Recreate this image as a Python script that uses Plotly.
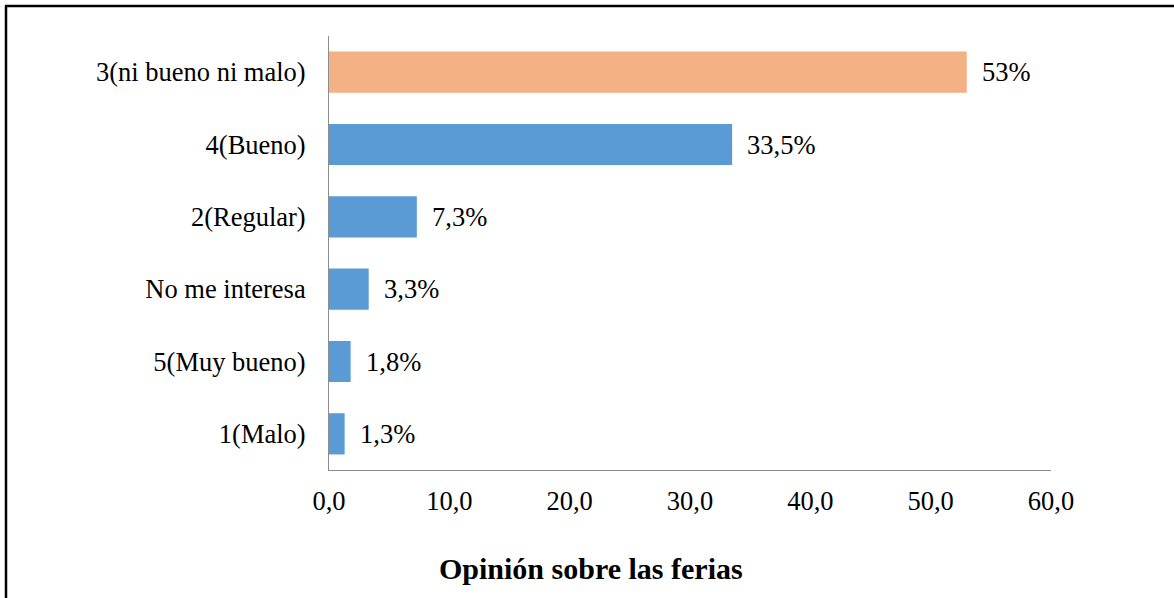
import plotly.graph_objects as go

# Data (bottom to top, as drawn)
categories = ['1(Malo)', '5(Muy bueno)', 'No me interesa', '2(Regular)', '4(Bueno)', '3(ni bueno ni malo)']
values = [1.3, 1.8, 3.3, 7.3, 33.5, 53.0]
value_labels = ['1,3%', '1,8%', '3,3%', '7,3%', '33,5%', '53%']
bar_colors = ['#5B9BD5', '#5B9BD5', '#5B9BD5', '#5B9BD5', '#5B9BD5', '#F4B183']
x_title = 'Opinión sobre las ferias'

W, H = 1174, 598
L, R, T, B = 329, 123, 36, 128
pw, ph = W - L - R, H - T - B

def px_x(p):
    return (p - L) / pw

def px_y(p):
    return (H - B - p) / ph

font_family = 'Liberation Serif'
fs = 26.5

fig = go.Figure()
fig.add_trace(go.Bar(x=values, y=categories, orientation='h',
                     marker=dict(color=bar_colors, line=dict(width=0)),
                     hoverinfo='skip'))

# value labels to the right of each bar
for cat, v, lab in zip(categories, values, value_labels):
    fig.add_annotation(x=v, y=cat, text=lab, showarrow=False,
                       xanchor='left', xshift=13,
                       font=dict(family=font_family, size=fs, color='black'))

# x title centred on the whole figure
fig.add_annotation(x=px_x(591), y=px_y(568), xref='paper', yref='paper',
                   text='<b>' + x_title + '</b>', showarrow=False,
                   xanchor='center', yanchor='middle',
                   font=dict(family=font_family, size=30, color='black'))

# outer chart border (left and top edges visible)
fig.add_shape(type='line', xref='paper', yref='paper',
              x0=px_x(6), x1=px_x(6), y0=px_y(640), y1=px_y(6),
              line=dict(color='black', width=2.5))
fig.add_shape(type='line', xref='paper', yref='paper',
              x0=px_x(5), x1=px_x(1180), y0=px_y(6), y1=px_y(6),
              line=dict(color='black', width=2.5))

fig.update_layout(
    width=W, height=H,
    margin=dict(l=L, r=R, t=T, b=B),
    plot_bgcolor='white', paper_bgcolor='white',
    separators=',.',
    bargap=0.43,
    showlegend=False,
    font=dict(family=font_family, size=fs, color='black'),
    xaxis=dict(range=[0, 60], dtick=10, tickformat='.1f',
               showgrid=False, zeroline=False,
               showline=True, linecolor='#8C8C8C', linewidth=1,
               ticks='', ticklabelstandoff=7,
               tickfont=dict(family=font_family, size=fs, color='black')),
    yaxis=dict(showgrid=False, zeroline=False,
               showline=True, linecolor='#8C8C8C', linewidth=1,
               ticks='', ticklabelstandoff=17,
               tickfont=dict(family=font_family, size=fs, color='black')),
)

fig.write_html('out.html', post_script="document.body.style.margin='0';",
               config={'displayModeBar': False})
